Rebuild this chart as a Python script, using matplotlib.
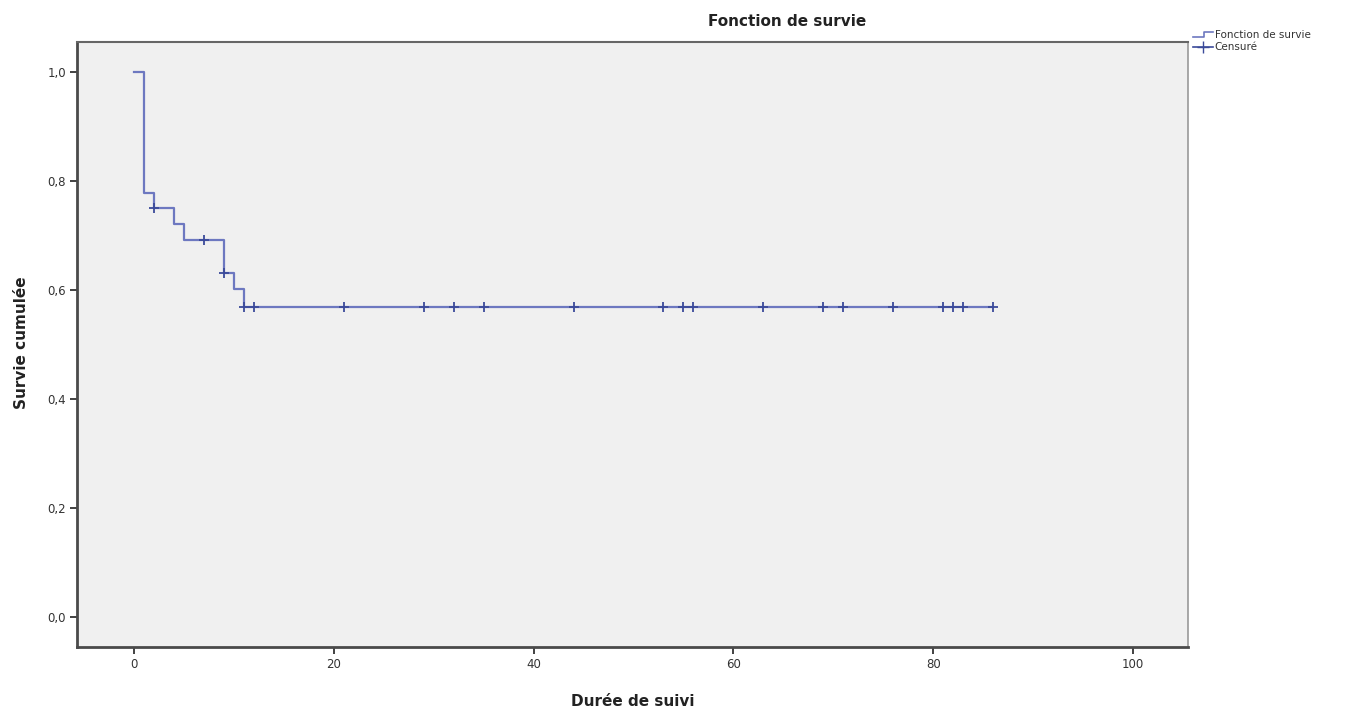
import numpy as np
import matplotlib.pyplot as plt
from matplotlib.lines import Line2D
from matplotlib.legend_handler import HandlerBase

# survival steps (time, cumulative survival)
step_times = [0, 1, 2, 4, 5, 9, 10, 11, 86]
step_surv = [1.0, 0.778, 0.75, 0.722, 0.692, 0.632, 0.601, 0.569, 0.569]

# censored observations
cens_times = [2, 7, 9, 11, 12, 21, 29, 32, 35, 44, 53, 55, 56, 63, 69, 71, 76, 81, 82, 83, 86]
cens_surv = [0.75, 0.692, 0.632] + [0.569] * 18

line_col = '#6d78c0'
mark_col = '#3b4a9a'


# legend icon drawn as a small step, like in spss
class StepHandler(HandlerBase):
    def create_artists(self, legend, orig, xd, yd, w, h, fontsize, trans):
        xs = [xd, xd + w * 0.55, xd + w * 0.55, xd + w]
        ys = [yd + h * 0.2, yd + h * 0.2, yd + h * 0.9, yd + h * 0.9]
        ln = Line2D(xs, ys, color=orig.get_color(), lw=orig.get_linewidth(), transform=trans)
        return [ln]


fig = plt.figure(figsize=(13.52, 7.15), dpi=100)
ax = fig.add_axes([77 / 1352, 1 - 647 / 715, (1188 - 77) / 1352, (647 - 42) / 715])
ax.set_facecolor('#f0f0f0')

ax.step(step_times, step_surv, where='post', color=line_col, lw=1.6)
ax.plot(cens_times, cens_surv, linestyle='none', marker='+', markersize=7,
        markeredgewidth=1.3, color=mark_col)

ax.set_xlim(-5.7, 105.5)
ax.set_ylim(-0.055, 1.055)
ax.set_xticks([0, 20, 40, 60, 80, 100])
ax.set_yticks([0.0, 0.2, 0.4, 0.6, 0.8, 1.0])
ax.set_yticklabels(['0,0', '0,2', '0,4', '0,6', '0,8', '1,0'])
ax.tick_params(axis='both', direction='out', length=5, width=1.3,
               color='#333333', labelsize=8.5, labelcolor='#333333', pad=3)

for side in ['left', 'bottom']:
    ax.spines[side].set_color('#4a4a4a')
    ax.spines[side].set_linewidth(2)
ax.spines['top'].set_color('#666666')
ax.spines['top'].set_linewidth(1.5)
ax.spines['right'].set_color('#999999')
ax.spines['right'].set_linewidth(1.2)

fig.text(787 / 1352, 1 - 22 / 715, 'Fonction de survie', ha='center', va='center',
         fontsize=11, fontweight='bold', color='#222222')
fig.text(633 / 1352, 1 - 701 / 715, 'Durée de suivi', ha='center', va='center',
         fontsize=11, fontweight='bold', color='#222222')
fig.text(22 / 1352, 1 - 343 / 715, 'Survie cumulée', ha='center', va='center',
         rotation=90, fontsize=11, fontweight='bold', color='#222222')

step_h = Line2D([0], [0], color=line_col, lw=1.2)
cens_h = Line2D([0], [0], color=mark_col, lw=1.2, marker='+', markersize=8)
leg = fig.legend([step_h, cens_h], ['Fonction de survie', 'Censuré'], loc='upper left',
                 bbox_to_anchor=(1189 / 1352, 1 - 26 / 715), frameon=False,
                 fontsize=7.5, handlelength=1.9, handletextpad=0.15,
                 labelspacing=0.2, borderaxespad=0,
                 handler_map={step_h: StepHandler()})
for t in leg.get_texts():
    t.set_color('#333333')

fig.savefig('out.png', dpi=100)
